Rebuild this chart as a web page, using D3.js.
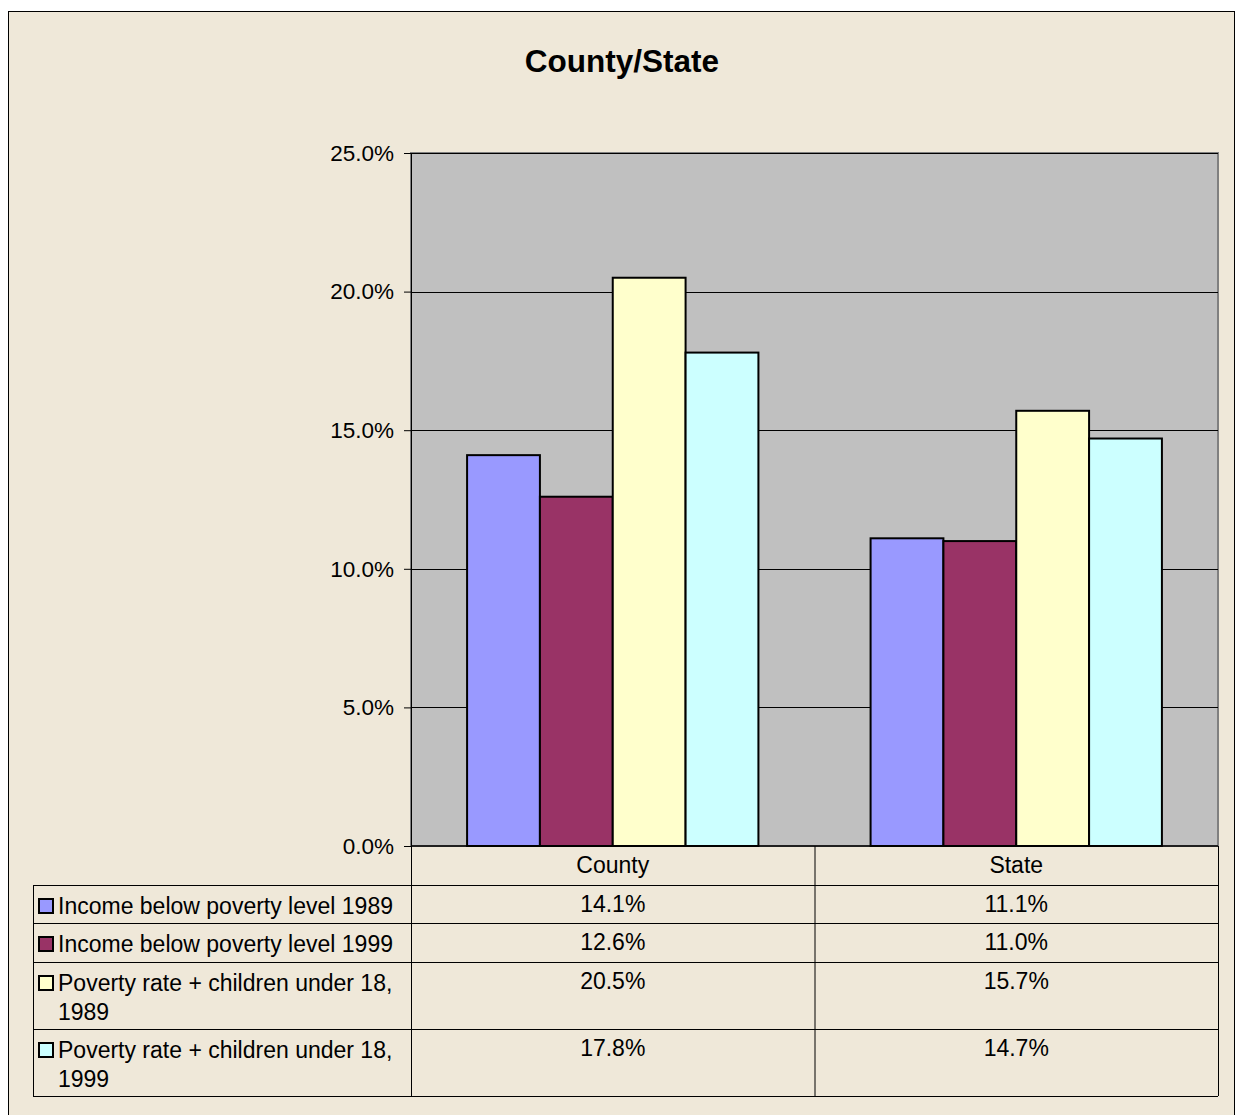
<!DOCTYPE html>
<html><head><meta charset="utf-8">
<script src="https://cdn.jsdelivr.net/npm/d3@7"></script>
<style>body{margin:0;background:#fff;}svg{display:block;font-family:"Liberation Sans",Arial,sans-serif;}</style>
</head><body><svg id="c" width="1235" height="1115"></svg>
<script>
const title = "County/State";
const categories = ["County", "State"];
const seriesNames = [
  ["Income below poverty level 1989"],
  ["Income below poverty level 1999"],
  ["Poverty rate + children under 18,", "1989"],
  ["Poverty rate + children under 18,", "1999"]
];
const seriesColors = ["#9999FF", "#993366", "#FFFFCC", "#CCFFFF"];
const values = [
  [0.141, 0.111],
  [0.126, 0.110],
  [0.205, 0.157],
  [0.178, 0.147]
];
const yTicks = [0, 0.05, 0.10, 0.15, 0.20, 0.25];

const svg = d3.select("#c");
svg.append("rect").attr("x", 8.5).attr("y", 11.5).attr("width", 1226).attr("height", 1110)
  .attr("fill", "#EFE8D9").attr("stroke", "#000").attr("stroke-width", 1);

svg.append("text").attr("x", 622).attr("y", 72).attr("text-anchor", "middle")
  .attr("font-size", 31.5).attr("font-weight", "bold").text(title);

const L = 411, R = 1218, T = 153, B = 846;
const x0 = d3.scaleBand().domain(categories).range([L, R]);
const x1 = d3.scaleBand().domain(d3.range(values.length)).range([0, x0.bandwidth()]).paddingOuter(0.77).paddingInner(0);
const y = d3.scaleLinear().domain([0, 0.25]).range([B, T]);

svg.append("rect").attr("x", L).attr("y", T).attr("width", R - L).attr("height", B - T)
  .attr("fill", "#C0C0C0").attr("stroke", "#808080").attr("stroke-width", 2);

svg.append("g").selectAll("line").data(yTicks.filter(d => d > 0)).join("line")
  .attr("x1", L).attr("x2", R).attr("y1", d => Math.round(y(d)) + 0.5).attr("y2", d => Math.round(y(d)) + 0.5)
  .attr("stroke", "#000").attr("stroke-width", 1);

const yAxis = svg.append("g").attr("transform", `translate(${L},0)`)
  .call(d3.axisLeft(y).tickValues(yTicks).tickFormat(d3.format(".1%")).tickSize(7).tickPadding(10));
yAxis.select(".domain").attr("stroke", "#000").attr("stroke-width", 1);
yAxis.selectAll(".tick line").attr("stroke", "#000");
yAxis.selectAll("text").attr("font-size", 22.5).attr("fill", "#000").attr("font-family", "Liberation Sans, Arial, sans-serif");

const groups = svg.append("g").selectAll("g").data(categories).join("g")
  .attr("transform", c => `translate(${x0(c)},0)`);
groups.selectAll("rect").data((c, ci) => values.map((s, si) => ({ si, v: s[ci] }))).join("rect")
  .attr("x", d => x1(d.si)).attr("width", x1.bandwidth())
  .attr("y", d => y(d.v)).attr("height", d => B - y(d.v))
  .attr("fill", d => seriesColors[d.si]).attr("stroke", "#000").attr("stroke-width", 2);

svg.append("line").attr("x1", L).attr("x2", R).attr("y1", B).attr("y2", B).attr("stroke", "#000").attr("stroke-width", 1.5);

// data table
const tableLeft = 33;
const rowTops = [846, 885, 923, 962, 1029, 1096];
const tbl = svg.append("g");
tbl.selectAll("line.h").data(rowTops.slice(1)).join("line").attr("class", "h")
  .attr("x1", tableLeft).attr("x2", R).attr("y1", d => d + 0.5).attr("y2", d => d + 0.5)
  .attr("stroke", "#000").attr("stroke-width", 1);
tbl.append("line").attr("x1", tableLeft + 0.5).attr("x2", tableLeft + 0.5).attr("y1", rowTops[1]).attr("y2", rowTops[5]).attr("stroke", "#000");
[L, x0("State"), R].forEach(xx => {
  tbl.append("line").attr("x1", xx + 0.5).attr("x2", xx + 0.5).attr("y1", B).attr("y2", rowTops[5]).attr("stroke", "#000");
});
tbl.selectAll("text.cat").data(categories).join("text").attr("class", "cat")
  .attr("x", c => x0(c) + x0.bandwidth() / 2).attr("y", 873).attr("text-anchor", "middle")
  .attr("font-size", 23).text(c => c);
seriesNames.forEach((lines, si) => {
  const top = rowTops[si + 1];
  tbl.append("rect").attr("x", 39).attr("y", top + 14).attr("width", 14).attr("height", 14)
    .attr("fill", seriesColors[si]).attr("stroke", "#000").attr("stroke-width", 2);
  lines.forEach((ln, li) => {
    tbl.append("text").attr("x", 58).attr("y", top + 29 + li * 29).attr("font-size", 23).text(ln);
  });
  categories.forEach((c, ci) => {
    tbl.append("text").attr("x", x0(c) + x0.bandwidth() / 2).attr("y", top + 27)
      .attr("text-anchor", "middle").attr("font-size", 23).text(d3.format(".1%")(values[si][ci]));
  });
});
</script></body></html>
